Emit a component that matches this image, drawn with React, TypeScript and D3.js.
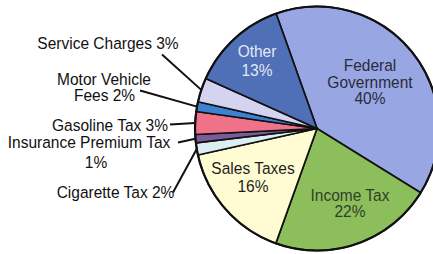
import React from "react";
import * as d3 from "d3";

const categories = [
  "Federal Government",
  "Income Tax",
  "Sales Taxes",
  "Cigarette Tax",
  "Insurance Premium Tax",
  "Gasoline Tax",
  "Motor Vehicle Fees",
  "Service Charges",
  "Other",
];
// slice sizes (percent)
const values = [39.2, 21.6, 16.0, 1.6, 1.1, 3.0, 1.3, 3.2, 12.8];
// percent as printed on the labels
const labelPercents = ["40%", "22%", "16%", "2%", "1%", "3%", "2%", "3%", "13%"];

const colors = [
  "#98a7e4",
  "#8cbf5c",
  "#fffbd3",
  "#dcedf3",
  "#7b5b98",
  "#f07288",
  "#3d82d0",
  "#d4d4f1",
  "#4f6fb6",
];

const W = 433;
const H = 254;
const cx = 317;
const cy = 128.5;
const R = 122;
const startDeg = -19.6;
const FS = 16.5;
const SX = 0.94;

// inside labels: [index, lines, x, y of first baseline, line height, color]
const insideLabels: [number, string[], number, number, number, string][] = [
  [0, ["Federal", "Government", labelPercents[0]], 370, 71, 16.5, "#2b2b3a"],
  [1, ["Income Tax", labelPercents[1]], 350, 200.5, 16.5, "#333d2a"],
  [2, ["Sales Taxes", labelPercents[2]], 253, 173.5, 18.5, "#1e1e1e"],
  [8, ["Other", labelPercents[8]], 257, 57, 18.5, "#e2e8f6"],
];

// outside labels: [index, lines, [x, baseline y] per line, leader start]
const outsideLabels: [number, string[], [number, number][], [number, number]][] = [
  [7, ["Service Charges " + labelPercents[7]], [[108, 49]], [162, 54.5]],
  [6, ["Motor Vehicle", "Fees " + labelPercents[6]], [[104, 84.5], [104.5, 100.5]], [140, 90.5]],
  [5, ["Gasoline Tax " + labelPercents[5]], [[110, 130.5]], [170, 124.5]],
  [4, ["Insurance Premium Tax", labelPercents[4]], [[89, 148], [96, 168]], [178, 142.5]],
  [3, ["Cigarette Tax " + labelPercents[3]], [[115.5, 198]], [173, 192.5]],
];

function Label({ x, y, text, fill }: { x: number; y: number; text: string; fill: string }) {
  return (
    <text
      transform={`translate(${x},${y}) scale(${SX},1)`}
      textAnchor="middle"
      fontSize={FS}
      fill={fill}
    >
      {text}
    </text>
  );
}

export default function App() {
  const pie = d3
    .pie<number>()
    .sort(null)
    .startAngle((startDeg * Math.PI) / 180)
    .endAngle((startDeg * Math.PI) / 180 + 2 * Math.PI);
  const arcs = pie(values);
  const arcGen = d3.arc<d3.PieArcDatum<number>>().innerRadius(0).outerRadius(R);

  const edgePoint = (i: number, rr: number): [number, number] => {
    const a = arcs[i];
    const m = (a.startAngle + a.endAngle) / 2;
    return [cx + rr * Math.sin(m), cy - rr * Math.cos(m)];
  };

  const font = "'Liberation Sans', Arial, sans-serif";

  return (
    <svg
      width={W}
      height={H}
      style={{ position: "fixed", left: 0, top: 0, background: "#fff" }}
      fontFamily={font}
    >
      <rect width={W} height={H} fill="#fff" />
      <g transform={`translate(${cx},${cy})`}>
        {arcs.map((a, i) => (
          <path
            key={categories[i]}
            d={arcGen(a) || ""}
            fill={colors[i]}
            stroke="#111"
            strokeWidth={1.7}
            strokeLinejoin="round"
          />
        ))}
        <circle r={R} fill="none" stroke="#111" strokeWidth={2.2} />
      </g>
      {insideLabels.map(([i, lines, x, y, lh, col]) => (
        <g key={"in" + i}>
          {lines.map((l, k) => (
            <Label key={k} x={x} y={y + k * lh} text={l} fill={col} />
          ))}
        </g>
      ))}
      {outsideLabels.map(([i, lines, pos, start]) => {
        const end = edgePoint(i, R);
        return (
          <g key={"out" + i}>
            <line
              x1={start[0]}
              y1={start[1]}
              x2={end[0]}
              y2={end[1]}
              stroke="#111"
              strokeWidth={2}
            />
            {lines.map((l, k) => (
              <Label key={k} x={pos[k][0]} y={pos[k][1]} text={l} fill="#111" />
            ))}
          </g>
        );
      })}
    </svg>
  );
}
